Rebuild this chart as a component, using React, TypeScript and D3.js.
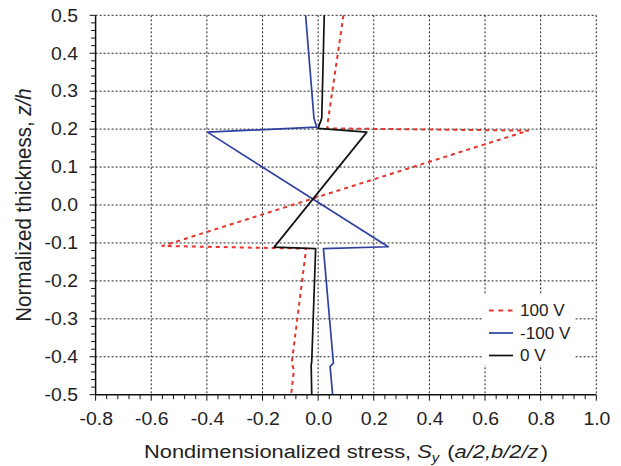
import React from "react";
import * as d3 from "d3";

// 100 V (red dashed)
const posX = [0.091, 0.035, 0.033, 0.755, -0.56, -0.043, -0.095, -0.087, -0.097];
const posZ = [0.5, 0.22, 0.202, 0.196, -0.108, -0.115, -0.417, -0.435, -0.5];
// -100 V (blue)
const negX = [-0.045, -0.015, -0.005, -0.398, 0.252, 0.019, 0.055, 0.043, 0.052];
const negZ = [0.5, 0.229, 0.205, 0.192, -0.11, -0.115, -0.417, -0.426, -0.5];
// 0 V (black)
const zeroX = [0.022, 0.013, 0.0, 0.175, -0.158, -0.009, -0.023, -0.025, -0.023];
const zeroZ = [0.5, 0.229, 0.202, 0.192, -0.111, -0.115, -0.413, -0.422, -0.5];

const xLabels = [-0.8, -0.6, -0.4, -0.2, 0.0, 0.2, 0.4, 0.6, 0.8, 1.0];
const yLabels = [0.5, 0.4, 0.3, 0.2, 0.1, 0.0, -0.1, -0.2, -0.3, -0.4, -0.5];

const series = [
  { name: "100 V", xs: posX, zs: posZ, color: "#e8322a", width: 2, dash: "4,4" },
  { name: "-100 V", xs: negX, zs: negZ, color: "#3040a0", width: 1.7, dash: null },
  { name: "0 V", xs: zeroX, zs: zeroZ, color: "#111111", width: 1.7, dash: null },
];

const W = 621;
const H = 466;
const left = 95.6;
const right = 596.3;
const top = 15.3;
const bottom = 394.7;
const font = "'Liberation Sans', Arial, sans-serif";
// the original text is a bit wider than Arial, so stretch it horizontally
const stretch = 1.11;

const App = () => {
  const x = d3.scaleLinear().domain([-0.8, 1.0]).range([left, right]);
  const y = d3.scaleLinear().domain([-0.5, 0.5]).range([bottom, top]);

  const xMinor = d3.range(0, 46).map((i) => -0.8 + i * 0.04);
  const yMinor = d3.range(0, 51).map((i) => -0.5 + i * 0.02);

  const line = d3
    .line<[number, number]>()
    .x((d) => x(d[0]))
    .y((d) => y(d[1]));

  const fmt = (v: number) => d3.format(".1f")(v).replace("−", "-");

  return (
    <svg
      width={W}
      height={H}
      style={{ position: "absolute", left: 0, top: 0, background: "#fff" }}
      fontFamily={font}
    >
      {/* grid */}
      {xLabels.slice(1).map((v) => (
        <line key={"gx" + v} x1={x(v)} x2={x(v)} y1={top} y2={bottom}
          stroke="#222" strokeWidth={1} strokeDasharray="2,2" />
      ))}
      {yLabels.slice(0, -1).map((v) => (
        <line key={"gy" + v} x1={left} x2={right} y1={y(v)} y2={y(v)}
          stroke="#222" strokeWidth={1} strokeDasharray="2,2" />
      ))}

      {/* curves */}
      {series.map((s) => (
        <path
          key={s.name}
          d={line(s.xs.map((v, i) => [v, s.zs[i]] as [number, number])) || ""}
          fill="none"
          stroke={s.color}
          strokeWidth={s.width}
          strokeDasharray={s.dash || undefined}
          strokeLinejoin="round"
        />
      ))}

      {/* axes */}
      <line x1={left} x2={left} y1={top} y2={bottom} stroke="#111" strokeWidth={1.5} />
      <line x1={left} x2={right} y1={bottom} y2={bottom} stroke="#111" strokeWidth={1.5} />
      {yMinor.map((v, i) => (
        <line key={"ty" + i} x1={left - (i % 5 === 0 ? 6 : 4.5)} x2={left} y1={y(v)} y2={y(v)}
          stroke="#111" strokeWidth={1} />
      ))}
      {xMinor.map((v, i) => (
        <line key={"tx" + i} x1={x(v)} x2={x(v)} y1={bottom} y2={bottom + (i % 5 === 0 ? 6 : 4.5)}
          stroke="#111" strokeWidth={1} />
      ))}
      {yLabels.map((v) => (
        <text key={"ly" + v} transform={`translate(78,${y(v)}) scale(${stretch},1)`} dy="0.36em"
          textAnchor="end" fontSize={17.5} fill="#222">
          {fmt(v)}
        </text>
      ))}
      {xLabels.map((v) => (
        <text key={"lx" + v} transform={`translate(${x(v) + 0.6},425) scale(${stretch},1)`}
          textAnchor="middle" fontSize={17.5} fill="#222">
          {fmt(v)}
        </text>
      ))}

      {/* axis titles */}
      <text transform={`translate(346,458) scale(1.15,1)`} textAnchor="middle" fontSize={19} fill="#222">
        Nondimensionalized stress,{" "}
        <tspan fontStyle="italic">S</tspan>
        <tspan fontStyle="italic" fontSize={13} dy={4}>y</tspan>
        <tspan dy={-4} dx={7}>(</tspan>
        <tspan fontStyle="italic">a/2,b/2/z</tspan>
        <tspan dx={2}>)</tspan>
      </text>
      <text transform={`translate(31,${(top + bottom) / 2}) scale(1.1,1) rotate(-90)`} textAnchor="middle"
        fontSize={20.5} fill="#222">
        Normalized thickness, <tspan fontStyle="italic">z/h</tspan>
      </text>

      {/* legend */}
      <rect x={482} y={295} width={93} height={70} fill="#fff" />
      {series.map((s, i) => (
        <g key={"lg" + s.name} transform={`translate(0,${310.5 + i * 22.5})`}>
          <line x1={489} x2={513} y1={0} y2={0} stroke={s.color} strokeWidth={s.width}
            strokeDasharray={s.dash ? "4.7,4.7" : undefined} />
          <text transform={`translate(520,0) scale(1.07,1)`} dy="0.36em" fontSize={16} fill="#222">
            {s.name}
          </text>
        </g>
      ))}
    </svg>
  );
};

export default App;
